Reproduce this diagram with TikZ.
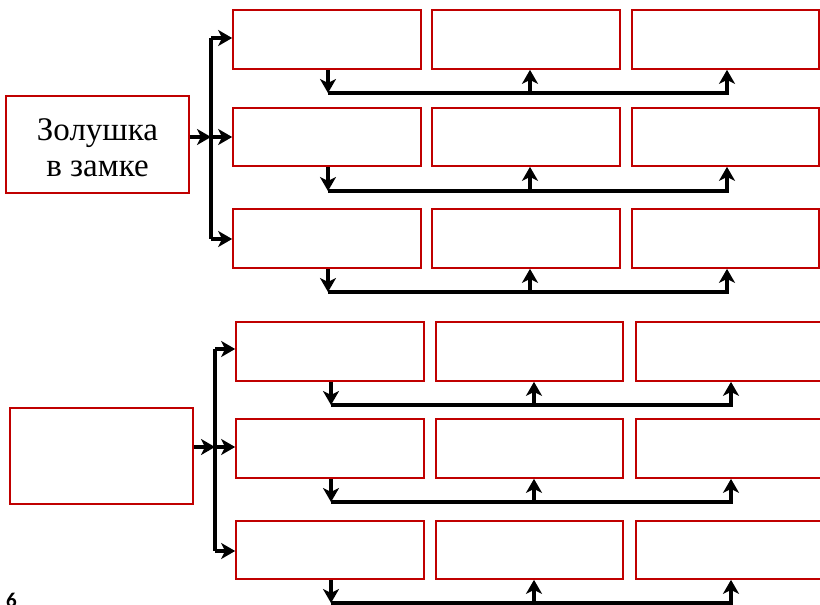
\documentclass[tikz,border=0pt]{standalone}
\usepackage{fontspec}
\setmainfont{Liberation Serif}
\newfontfamily\carl{Carlito}
\usetikzlibrary{arrows.meta,calc}
\definecolor{boxred}{RGB}{192,0,0}
\tikzset{
  cell/.style={draw=boxred, line width=1.7pt, fill=white, minimum width=188pt, minimum height=59pt, inner sep=0pt},
  mainbox/.style={draw=boxred, line width=1.7pt, fill=white, minimum width=183pt, minimum height=97pt, inner sep=0pt},
  boxtext/.style={align=center, inner sep=0pt, font=\fontsize{33}{36}\selectfont},
  conn/.style={line width=3.6pt, draw=black, -{Stealth[length=14pt,width=16pt,inset=4pt]}},
  plainconn/.style={line width=3.6pt, draw=black},
}
\begin{document}
\begin{tikzpicture}[x=1pt,y=-1pt]
\useasboundingbox (0,0) rectangle (820,605);
% ---------- top group ----------
\node[mainbox] (m1) at (97.5,144.5) {};
\node[boxtext] (m1t) at (97.5,148) {Золушка\\в замке};
\node[cell] (a11) at (327,39.5) {};
\node[cell] (a12) at (526,39.5) {};
\node[cell, minimum width=187pt] (a13) at (725.5,39.5) {};
\node[cell, minimum height=58pt] (a21) at (327,137) {};
\node[cell, minimum height=58pt] (a22) at (526,137) {};
\node[cell, minimum height=58pt, minimum width=187pt] (a23) at (725.5,137) {};
\node[cell] (a31) at (327,238.5) {};
\node[cell] (a32) at (526,238.5) {};
\node[cell, minimum width=187pt] (a33) at (725.5,238.5) {};
% branching bar
\coordinate (tb0) at (211,137);
\coordinate (tb1) at (211,38);
\coordinate (tb3) at (211,239);
\draw[conn] (m1.east |- tb0) -- (tb0);
\draw[plainconn] (tb1) -- (tb3);
\draw[conn] (tb1) -- (a11.west |- tb1);
\draw[conn] (tb0) -- (a21.west |- tb0);
\draw[conn] (tb3) -- (a31.west |- tb3);
% buses top group
\foreach \r/\y in {1/93,2/191,3/292}{
  \coordinate (td\r) at (328,\y);
  \coordinate (tu\r) at (530,\y);
  \coordinate (tv\r) at (727,\y);
  \draw[conn] (a\r1.south -| td\r) -- (td\r);
  \draw[conn] (td\r) -- (tv\r) -- (tv\r |- a\r3.south);
  \draw[conn] (tu\r) -- (tu\r |- a\r2.south);
}
% ---------- bottom group ----------
\node[mainbox, minimum height=96pt] (m2) at (101.5,456) {};
\node[cell] (b11) at (330,351.5) {};
\node[cell, minimum width=187pt] (b12) at (529.5,351.5) {};
\node[cell] (b13) at (730,351.5) {};
\node[cell] (b21) at (330,448.5) {};
\node[cell, minimum width=187pt] (b22) at (529.5,448.5) {};
\node[cell] (b23) at (730,448.5) {};
\node[cell, minimum height=58pt] (b31) at (330,550) {};
\node[cell, minimum height=58pt, minimum width=187pt] (b32) at (529.5,550) {};
\node[cell, minimum height=58pt] (b33) at (730,550) {};
\coordinate (bb0) at (215,447);
\coordinate (bb1) at (215,349);
\coordinate (bb3) at (215,551);
\draw[conn] (m2.east |- bb0) -- (bb0);
\draw[plainconn] (bb1) -- (bb3);
\draw[conn] (bb1) -- (b11.west |- bb1);
\draw[conn] (bb0) -- (b21.west |- bb0);
\draw[conn] (bb3) -- (b31.west |- bb3);
\foreach \r/\y in {1/405,2/502,3/603}{
  \coordinate (bd\r) at (331,\y);
  \coordinate (bu\r) at (534,\y);
  \coordinate (bv\r) at (731,\y);
  \draw[conn] (b\r1.south -| bd\r) -- (bd\r);
  \draw[conn] (bd\r) -- (bv\r) -- (bv\r |- b\r3.south);
  \draw[conn] (bu\r) -- (bu\r |- b\r2.south);
}
% cut-off label at bottom-left
\node[anchor=base west, inner sep=0pt, font=\carl\bfseries\fontsize{21}{24}\selectfont] (lbl) at (6,607) {6};
\end{tikzpicture}
\end{document}
